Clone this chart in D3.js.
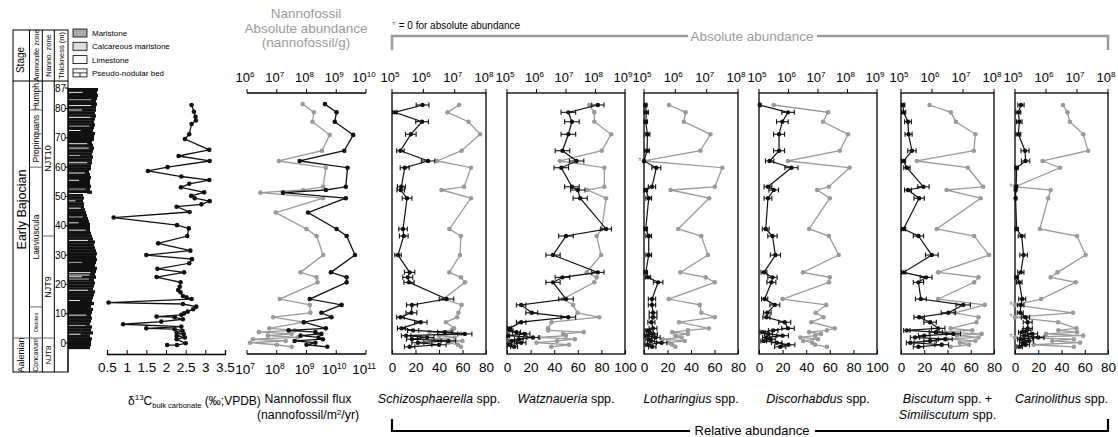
<!DOCTYPE html>
<html lang="en">
<head>
<meta charset="UTF-8" />
<title>Early Bajocian nannofossil record</title>
<style>
  body { margin: 0; background: #fff; font-family: "Liberation Sans", Arial, sans-serif; }
  svg { display: block; }
</style>
</head>
<body>
<svg width="1118" height="437"></svg>
<script src="https://cdnjs.cloudflare.com/ajax/libs/d3/7.8.5/d3.min.js"></script>
<script>
// ---- data ----
// δ13C bulk carbonate (depth in m, value in ‰ VPDB)
const d13cDepth = [81.2, 78.9, 77.2, 75.9, 74.7, 71.2, 69.6, 65.9, 63.8, 62.1, 60, 58.7, 56.8, 55.6, 54.3, 53.1, 51.4, 50.2, 49.4, 48.4, 47.3, 46.5, 44.7, 42.8, 40.2, 39.1, 36.5, 34, 31.5, 30, 28.6, 27.2, 25.3, 24.1, 22.5, 20.7, 19.2, 18.1, 17.3, 16, 15.6, 15, 13.8, 13.3, 12.4, 11.5, 10.7, 10.1, 9.6, 9, 8.8, 8.1, 7.3, 6.4, 5.6, 5, 4.7, 4.2, 3.5, 3.1, 2.4, 1.9, 1.3, -0.1, -0.7, -0.7];
const d13cValue = [2.65, 2.71, 2.75, 2.76, 2.65, 2.59, 2.48, 3.1, 2.32, 3.11, 2.04, 1.54, 2.39, 3.1, 2.59, 2.38, 2.97, 2.64, 2.73, 3.11, 2.9, 2.27, 2.6, 0.67, 2.28, 2.58, 2.54, 1.8, 2.62, 1.5, 2.66, 2.59, 1.78, 2.46, 1.76, 2.37, 2.35, 2.31, 2.37, 2.43, 2.52, 2.65, 0.54, 2.43, 2.77, 2.69, 2.55, 2.46, 2.39, 1.76, 2.22, 2.43, 1.88, 0.91, 2.39, 1.5, 2.22, 2.42, 2.27, 2.45, 2.27, 2.48, 2.27, 2.5, 2.28, 2.03];

// nannofossil flux (log10 nannofossil/m²/yr) and absolute abundance (log10 nannofossil/g)
const fluxDepth = [81.5, 78.7, 75.5, 71.0, 65.6, 62.1, 59.8, 53.3, 52.2, 51.3, 49.4, 44.5, 38.9, 36.5, 30.0, 24.1, 22.4, 20.7, 15.0, 13.0, 10.3, 8.8, 7.1, 5.0, 4.3, 3.7, 3.1, 2.5, 1.9, 1.3, 0.7, 0.1, -0.6, -1.3];
const fluxLog = [9.62, 10.01, 9.95, 10.57, 10.27, 8.77, 10.38, 10.32, 9.65, 8.21, 10.32, 9.05, 10.01, 10.35, 10.63, 9.82, 10.35, 10.35, 9.11, 10.18, 9.5, 9.84, 8.91, 9.65, 8.4, 9.3, 9.5, 8.8, 9.4, 9.55, 8.6, 9.3, 9.0, 9.7];
const nannoAbsLog = [7.87, 8.25, 8.2, 8.78, 8.52, 7.07, 8.65, 8.56, 7.89, 6.45, 8.56, 6.97, 8.0, 8.34, 8.56, 7.8, 8.34, 8.37, 7.1, 8.11, 8.13, 6.88, 7.9, 6.75, 7.6, 6.4, 7.5, 6.7, 7.7, 6.2, 7.3, 6.1, 7.0, 7.5];

// taxa: relative abundance (%) and absolute abundance (log10 per g, 0 = none found)
const relDepth = [81.2, 78.7, 75.5, 71.2, 65.6, 62.1, 59.8, 53.3, 52.2, 49.4, 38.9, 36.5, 30.0, 24.1, 22.4, 20.7, 15.0, 13.0, 10.3, 8.8, 7.1, 5.0, 4.3, 3.7, 3.1, 2.5, 1.9, 1.3, 0.7, 0.1, -0.6, -1.3];
const schizoRel = [26, 2.3, 25.6, 16, 7.2, 30.7, 10.8, 8, 7.4, 12.8, 9.4, 10, 5.1, 15, 13.4, 14.5, 46.4, 17, 16.5, 7.2, 24.5, 8, 18, 45, 62, 12, 30, 17, 48, 22, 40, 15];
const schizoAbs = [7.14, 6.77, 7.44, 7.81, 7.22, 6.44, 7.52, 7.3, 6.58, 7.52, 6.83, 7.2, 7.17, 6.83, 7.2, 7.33, 6.64, 7.22, 7.12, 7.08, 6.72, 6.98, 6.9, 6.2, 7.2, 6.5, 7.0, 6.3, 7.25, 6.8, 7.1, 7.2];
const watzRel = [77, 52, 55, 52, 47, 59, 46, 55, 60, 62, 84, 50, 39, 77, 47, 39, 50, 12, 21, 52, 12, 2, 3, 8, 15, 1, 22, 10, 4, 12, 2, 6];
const watzAbs = [7.79, 7.96, 7.96, 8.53, 8.21, 6.79, 8.3, 8.3, 7.73, 8.36, 8.21, 8.04, 8.19, 7.7, 8.04, 7.96, 6.9, 7.24, 7.39, 8.13, 6.51, 6.39, 6.4, 7.6, 6.9, 7.0, 6.1, 7.3, 6.7, 6.0, 7.1, 6.5];
const lothRel = [1.2, 2, 1.5, 2.9, 2.6, 0, 10.5, 6.8, 1.5, 4, 1.5, 4, 4, 1.5, 3.4, 12, 6.8, 6.8, 7.7, 7.7, 6.3, 7.7, 3, 5, 8, 2, 10, 4, 6, 15, 3, 7];
const lothAbs = [5.8, 6.33, 6.27, 7.12, 6.8, 0, 7.5, 7.26, 5.85, 7.08, 6.09, 6.83, 7.04, 6.16, 6.97, 7.26, 5.79, 6.78, 6.83, 7.26, 6.12, 7.07, 6.4, 5.9, 6.4, 6.0, 6.2, 5.6, 6.3, 5.8, 5.9, 6.0];
const discoRel = [0.6, 24.6, 19.8, 17, 17, 9, 27.5, 7.6, 12.5, 7.6, 5.7, 11.4, 13.9, 4.2, 11.4, 10.5, 4.8, 13.4, 7.1, 6.3, 21.8, 24.6, 12, 3, 8, 20, 6, 10, 4, 15, 25, 18];
const discoAbs = [5.5, 7.34, 7.17, 8.02, 7.74, 5.98, 8.07, 7.37, 6.97, 7.4, 6.7, 7.37, 7.7, 6.49, 7.4, 7.37, 5.8, 7.28, 6.92, 7.19, 6.77, 7.57, 7.3, 6.7, 7.1, 6.9, 6.4, 7.0, 6.5, 6.8, 6.9, 7.3];
const biscRel = [1.7, 2.2, 6, 6.5, 9.4, 2.2, 5.1, 19.3, 6, 15.6, 2.2, 15, 26.5, 2.2, 21.6, 15, 17.1, 53.5, 40.7, 15.6, 25, 32, 5, 30, 45, 20, 12, 38, 25, 8, 35, 15];
const biscAbs = [5.92, 6.61, 6.77, 7.4, 7.35, 5.51, 7.16, 7.65, 6.47, 7.57, 6.15, 7.36, 7.84, 6.2, 7.5, 7.36, 6.2, 7.7, 6.74, 7.5, 7.43, 6.6, 7.3, 6.2, 7.6, 6.8, 7.5, 6.5, 7.4, 6.9, 7.2, 6.6];
const cariRel = [5.1, 2.9, 3.7, 2.9, 8.6, 9.1, 1.4, 1, 0.5, 0.5, 1.4, 5.7, 7.4, 5, 1.4, 3.7, 6.2, 5, 4.5, 9, 10.9, 11, 10, 6, 15, 8, 20, 5, 12, 7, 9, 4];
const cariAbs = [6.55, 6.69, 6.77, 7.2, 7.36, 5.89, 6.45, 0, 6.15, 6.07, 5.8, 7.0, 7.28, 6.37, 6.15, 6.96, 5.84, 0, 6.87, 0, 6.39, 6.98, 6.4, 7.0, 6.0, 7.2, 0, 6.9, 6.2, 7.1, 5.6, 6.9];

// stratigraphy (zone base depths in m)
const stages = [["Early Bajocian", 1.7], ["Aalenian", -10]];
const ammoniteZones = [["Humph.", 79.5], ["Propinquans", 60], ["Laeviuscula", 12.3], ["Discites", 1.7], ["Concavum", -10]];
const nannoZones = [["NJT10", 36.5], ["NJT9", 1.7], ["NJT8", -10]];
const thicknessTicks = [0, 10, 20, 30, 40, 50, 60, 70, 80, 87];
// weathering profile of the log, one value per metre from -2 m upward
const lithoProfile = [22, 23,
  23, 24, 22, 25, 23, 24, 22, 23, 24, 23,
  24, 25, 23, 26, 24, 25, 26, 27, 25, 26,
  27, 26, 28, 27, 28, 29, 27, 28, 29, 28,
  29, 28, 27, 26, 27, 25, 24, 23, 22, 22,
  22, 21, 20, 19, 18, 17, 16, 16, 15, 16,
  15, 24, 22, 23, 22, 22, 23, 22, 21, 23,
  23, 24, 24, 25, 24, 25, 26, 25, 24, 26,
  26, 27, 25, 26, 27, 26, 27, 28, 27, 28,
  28, 29, 28, 29, 30, 29, 30];
const limestoneBeds = [85.5, 83, 81, 79.5, 77, 74, 72.5, 68, 66.5, 64, 61.5, 58, 55.5, 52.5, 51, 48.5, 46, 43, 41, 38.5, 35, 27.5, 24, 23.2, 22.6, 21.8, 18, 14.5, 9.5, 6, 3];
const legendItems = ["Marlstone", "Calcareous marlstone", "Limestone", "Pseudo-nodular bed"];

// ---- layout ----
const svg = d3.select("svg");
const GRAY = "#9a9a9a";
const plotTop = 93, plotBottom = 354;
const y = d3.scaleLinear().domain([0, 87]).range([343, 88]);

function supText(g, x, yy, base, exp, size, color) {
  const t = g.append("text").attr("x", x).attr("y", yy).attr("text-anchor", "middle")
    .attr("font-size", size).attr("fill", color || "#000");
  t.append("tspan").text(base);
  t.append("tspan").attr("dy", -5).attr("font-size", size * 0.62).text(exp);
  return t;
}

// ---- stratigraphic column ----
const colL = 13, colR = 68, colTop = 30, headB = 81, colBot = 372;
const colX = [13, 29.5, 42.3, 54.3, 68];
svg.append("defs").append("clipPath").attr("id", "colclip")
  .append("rect").attr("x", colL).attr("y", headB).attr("width", colR - colL).attr("height", colBot - headB);
const col = svg.append("g").attr("stroke-width", 1);
const colText = col.append("g").attr("clip-path", "url(#colclip)");
col.append("rect").attr("x", colL).attr("y", colTop).attr("width", colR - colL).attr("height", colBot - colTop)
  .attr("fill", "none").attr("stroke", "#000");
colX.slice(1, 4).forEach(x => col.append("line").attr("x1", x).attr("x2", x).attr("y1", colTop).attr("y2", colBot).attr("stroke", "#000"));
col.append("line").attr("x1", colL).attr("x2", colR).attr("y1", headB).attr("y2", headB).attr("stroke", "#000");

const headers = [["Stage", 10], ["Ammonite zone", 7.5], ["Nanno. zone", 7.5], ["Thickness (m)", 7.5]];
headers.forEach((h, i) => {
  const cx = (colX[i] + colX[i + 1]) / 2;
  const cy = h[0] === "Stage" ? 60 : (colTop + headB) / 2;
  col.append("text").attr("transform", `translate(${cx + 3},${cy}) rotate(-90)`)
    .attr("text-anchor", "middle").attr("font-size", h[1]).text(h[0]);
});

function zoneColumn(zones, i, size) {
  let zTop = headB;
  zones.forEach(z => {
    const zBot = Math.min(y(z[1]), colBot);
    if (zBot < colBot) col.append("line").attr("x1", colX[i]).attr("x2", colX[i + 1]).attr("y1", zBot).attr("y2", zBot)
      .attr("stroke", "#666");
    const cx = (colX[i] + colX[i + 1]) / 2;
    const small = { "Discites": 5.5, "Humph.": 8.5, "Aalenian": 9, "Concavum": 7, "NJT8": 8 };
    const fs = small[z[0]] || size;
    colText.append("text").attr("transform", `translate(${cx + fs * 0.35},${(zTop + zBot) / 2}) rotate(-90)`)
      .attr("text-anchor", "middle").attr("font-size", fs).text(z[0]);
    zTop = zBot;
  });
}
zoneColumn(stages, 0, 12.5);
zoneColumn(ammoniteZones, 1, 8.5);
zoneColumn(nannoZones, 2, 9);

thicknessTicks.forEach(t => {
  col.append("line").attr("x1", colR - 3).attr("x2", colR).attr("y1", y(t)).attr("y2", y(t)).attr("stroke", "#000");
  col.append("text").attr("x", colR - 2).attr("y", y(t) + 3.5).attr("text-anchor", "end")
    .attr("font-size", 10).text(t);
});

// lithology log
const wScale = d3.scaleLinear().domain([0, 30]).range([0, 30]);
const litho = svg.append("g");
lithoProfile.forEach((w, i) => {
  const d = i - 2;
  litho.append("rect").attr("x", colR).attr("y", y(d + 1)).attr("width", wScale(w)).attr("height", y(d) - y(d + 1) + 0.3)
    .attr("fill", "#111");
});
limestoneBeds.forEach((d, i) => {
  const w = wScale(lithoProfile[Math.floor(d) + 2]);
  litho.append("line").attr("x1", colR + 1).attr("x2", colR + w * (i % 3 === 0 ? 0.5 : 0.8))
    .attr("y1", y(d)).attr("y2", y(d)).attr("stroke", i % 4 === 1 ? "#bbb" : "#fff").attr("stroke-width", 0.9);
});
litho.append("line").attr("x1", colR).attr("x2", colR).attr("y1", y(87)).attr("y2", colBot).attr("stroke", "#000");

// legend
const legFill = ["#aaa", "#ddd", "#fff", "#fff"];
legendItems.forEach((t, i) => {
  const ly = 29 + i * 13.3;
  svg.append("rect").attr("x", 73).attr("y", ly).attr("width", 14).attr("height", 8)
    .attr("fill", legFill[i]).attr("stroke", "#000").attr("stroke-width", 0.8);
  if (i === 3) {
    svg.append("line").attr("x1", 73).attr("x2", 87).attr("y1", ly + 4).attr("y2", ly + 4).attr("stroke", "#000").attr("stroke-width", 0.8);
    svg.append("line").attr("x1", 80).attr("x2", 80).attr("y1", ly + 4).attr("y2", ly + 8).attr("stroke", "#000").attr("stroke-width", 0.8);
  }
  svg.append("text").attr("x", 92).attr("y", ly + 7).attr("font-size", 8).text(t);
});

// ---- δ13C panel ----
const xC = d3.scaleLinear().domain([0.5, 3.5]).range([107, 225]);
const cg = svg.append("g");
cg.append("g").attr("transform", `translate(0,${plotBottom})`)
  .call(d3.axisBottom(xC).tickValues(d3.range(0.5, 3.51, 0.5)).tickSize(-4).tickPadding(8).tickFormat(d3.format("~g")))
  .call(g => g.selectAll("text").attr("font-size", 13.5).attr("font-family", "Liberation Sans, Arial"))
  .call(g => g.select(".domain").attr("stroke-width", 1.3));
const cData = d13cDepth.map((d, i) => [d, d13cValue[i]]);
cg.append("path").datum(cData).attr("fill", "none").attr("stroke", "#111").attr("stroke-width", 1.3)
  .attr("d", d3.line().x(d => xC(d[1])).y(d => y(d[0])));
cg.selectAll("circle").data(cData).join("circle").attr("cx", d => xC(d[1])).attr("cy", d => y(d[0]))
  .attr("r", 2.3).attr("fill", "#111");
const cl = cg.append("text").attr("x", 128).attr("y", 405).attr("font-size", 12);
cl.append("tspan").text("δ");
cl.append("tspan").attr("dy", -5).attr("font-size", 8).text("13");
cl.append("tspan").attr("dy", 5).text("C");
cl.append("tspan").attr("dy", 3).attr("font-size", 7.5).text("bulk carbonate");
cl.append("tspan").attr("dy", -3).text(" (‰;VPDB)");

// ---- nannofossil flux / absolute abundance panel ----
const ng = svg.append("g");
const xFlux = d3.scaleLog().domain([1e7, 1e11]).range([247, 366]);
const xAbsN = d3.scaleLog().domain([1e6, 1e10]).range([247, 366]);
[plotTop, plotBottom].forEach(yy => ng.append("line").attr("x1", 247).attr("x2", 366).attr("y1", yy).attr("y2", yy)
  .attr("stroke", "#000").attr("stroke-width", 1.3));
d3.range(7, 12).forEach(e => {
  const x = xFlux(10 ** e);
  ng.append("line").attr("x1", x).attr("x2", x).attr("y1", plotBottom).attr("y2", plotBottom - 4).attr("stroke", "#000");
  supText(ng, x - 2, 374, "10", e, 13.5);
});
d3.range(6, 11).forEach(e => {
  const x = xAbsN(10 ** e);
  ng.append("line").attr("x1", x).attr("x2", x).attr("y1", plotTop).attr("y2", plotTop - 4).attr("stroke", "#000");
  supText(ng, x - 2, 82, "10", e, 13);
});
const nAbs = fluxDepth.map((d, i) => [d, 10 ** nannoAbsLog[i]]);
const nFlux = fluxDepth.map((d, i) => [d, 10 ** fluxLog[i]]);
[[nAbs, xAbsN, GRAY], [nFlux, xFlux, "#111"]].forEach(([data, sx, c]) => {
  ng.append("path").datum(data).attr("fill", "none").attr("stroke", c).attr("stroke-width", 1.3)
    .attr("d", d3.line().x(d => sx(d[1])).y(d => y(d[0])));
  ng.append("g").selectAll("circle").data(data).join("circle").attr("cx", d => sx(d[1])).attr("cy", d => y(d[0]))
    .attr("r", 2.3).attr("fill", c);
});
["Nannofossil", "Absolute abundance", "(nannofossil/g)"].forEach((t, i) =>
  ng.append("text").attr("x", 306).attr("y", 18 + i * 14.5).attr("text-anchor", "middle")
    .attr("font-size", 13.5).attr("fill", GRAY).text(t));
ng.append("text").attr("x", 308).attr("y", 403).attr("text-anchor", "middle").attr("font-size", 12.3).text("Nannofossil flux");
const nf = ng.append("text").attr("x", 308).attr("y", 419).attr("text-anchor", "middle").attr("font-size", 12.3);
nf.append("tspan").text("(nannofossil/m");
nf.append("tspan").attr("dy", -4).attr("font-size", 8).text("2");
nf.append("tspan").attr("dy", 4).text("/yr)");

// ---- taxa panels ----
const panels = [
  { genus: "Schizosphaerella", rel: schizoRel, abs: schizoAbs, x0: 392, x1: 486, relMax: 80, dec: [5, 8] },
  { genus: "Watznaueria", rel: watzRel, abs: watzAbs, x0: 507, x1: 625, relMax: 100, dec: [5, 9] },
  { genus: "Lotharingius", rel: lothRel, abs: lothAbs, x0: 644, x1: 738, relMax: 80, dec: [5, 8] },
  { genus: "Discorhabdus", rel: discoRel, abs: discoAbs, x0: 759, x1: 877, relMax: 100, dec: [5, 9] },
  { genus: ["Biscutum", "Similiscutum"], rel: biscRel, abs: biscAbs, x0: 901, x1: 994, relMax: 80, dec: [5, 8] },
  { genus: "Carinolithus", rel: cariRel, abs: cariAbs, x0: 1015, x1: 1108, relMax: 80, dec: [5, 8] }
];

panels.forEach(p => {
  const g = svg.append("g");
  const xr = d3.scaleLinear().domain([0, p.relMax]).range([p.x0, p.x1]);
  const xa = d3.scaleLog().domain([10 ** p.dec[0], 10 ** p.dec[1]]).range([p.x0, p.x1]);

  g.append("g").attr("transform", `translate(0,${plotBottom})`)
    .call(d3.axisBottom(xr).tickValues(d3.range(0, p.relMax + 1, 20)).tickSize(-4).tickPadding(8))
    .call(a => a.selectAll("text").attr("font-size", 13.5).attr("font-family", "Liberation Sans, Arial"))
    .call(a => a.select(".domain").remove());
  g.append("rect").attr("x", p.x0).attr("y", plotTop).attr("width", p.x1 - p.x0).attr("height", plotBottom - plotTop)
    .attr("fill", "none").attr("stroke", "#000").attr("stroke-width", 1.3);
  d3.range(p.dec[0], p.dec[1] + 1).forEach(e => {
    const x = xa(10 ** e);
    g.append("line").attr("x1", x).attr("x2", x).attr("y1", plotTop).attr("y2", plotTop - 4).attr("stroke", "#000");
    supText(g, x - 2, 82, "10", e, 13);
  });

  // absolute abundance (grey), zero values drawn at the left edge with an asterisk
  const aData = relDepth.map((d, i) => ({ d, v: p.abs[i] }));
  const ax = d => d.v === 0 ? p.x0 : xa(10 ** d.v);
  g.append("path").datum(aData).attr("fill", "none").attr("stroke", GRAY).attr("stroke-width", 1.3)
    .attr("d", d3.line().x(ax).y(d => y(d.d)));
  g.append("g").selectAll("circle").data(aData).join("circle").attr("cx", ax).attr("cy", d => y(d.d))
    .attr("r", 2.3).attr("fill", GRAY);
  g.append("g").selectAll("text").data(aData.filter(d => d.v === 0)).join("text")
    .attr("x", p.x0 - 4).attr("y", d => y(d.d) + 4).attr("text-anchor", "middle")
    .attr("font-size", 10).attr("fill", GRAY).text("*");

  // relative abundance (black) with 95% counting intervals
  const rData = relDepth.map((d, i) => {
    const q = p.rel[i] / 100;
    const e = 196 * Math.sqrt(q * (1 - q) / 250);
    return { d, v: p.rel[i], lo: Math.max(0, p.rel[i] - e), hi: p.rel[i] + e };
  });
  g.append("path").datum(rData).attr("fill", "none").attr("stroke", "#111").attr("stroke-width", 1.2)
    .attr("d", d3.line().x(d => xr(d.v)).y(d => y(d.d)));
  const eb = g.append("g").attr("stroke", "#111").attr("stroke-width", 1.1);
  rData.forEach(d => {
    const yy = y(d.d);
    eb.append("line").attr("x1", xr(d.lo)).attr("x2", xr(d.hi)).attr("y1", yy).attr("y2", yy);
    [d.lo, d.hi].forEach(v => eb.append("line").attr("x1", xr(v)).attr("x2", xr(v)).attr("y1", yy - 2.5).attr("y2", yy + 2.5));
  });
  g.append("g").selectAll("circle").data(rData).join("circle").attr("cx", d => xr(d.v)).attr("cy", d => y(d.d))
    .attr("r", 2.2).attr("fill", "#111");

  // title
  const cx = (p.x0 + p.x1) / 2;
  const names = Array.isArray(p.genus) ? p.genus : [p.genus];
  names.forEach((n, i) => {
    const t = g.append("text").attr("x", cx).attr("y", 403 + i * 16).attr("text-anchor", "middle").attr("font-size", 12.5);
    t.append("tspan").attr("font-style", "italic").text(n);
    t.append("tspan").text(" spp." + (i < names.length - 1 ? " +" : ""));
  });
});

// ---- brackets ----
const bx0 = 392, bx1 = 1108;
const absBracket = svg.append("g").attr("stroke", GRAY).attr("stroke-width", 2.5).attr("fill", "none");
absBracket.append("path").attr("d", `M${bx0},50V36H688`);
absBracket.append("path").attr("d", `M817,36H${bx1}V50`);
svg.append("text").attr("x", 752).attr("y", 41).attr("text-anchor", "middle").attr("font-size", 13.5).attr("fill", GRAY)
  .text("Absolute abundance");
const star = svg.append("text").attr("x", 392).attr("y", 29).attr("font-size", 10);
star.append("tspan").attr("fill", GRAY).text("*");
star.append("tspan").text(" = 0 for absolute abundance");

const relBracket = svg.append("g").attr("stroke", "#000").attr("stroke-width", 2.2).attr("fill", "none");
relBracket.append("path").attr("d", `M${bx0},419V431H690`);
relBracket.append("path").attr("d", `M815,431H${bx1}V419`);
svg.append("text").attr("x", 752).attr("y", 434.5).attr("text-anchor", "middle").attr("font-size", 13)
  .text("Relative abundance");
</script>
</body>
</html>
